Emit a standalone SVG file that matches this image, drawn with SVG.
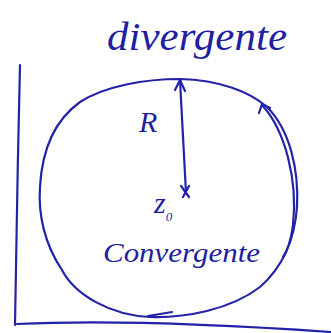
<svg xmlns="http://www.w3.org/2000/svg" width="331" height="333" viewBox="0 0 331 333">
  <style>
    .ink { fill: none; stroke: #2323a8; stroke-width: 2.2; stroke-linecap: round; stroke-linejoin: round; }
    .txt { fill: #1f1fa0; font-family: "Liberation Serif", "DejaVu Serif", serif; font-style: italic; }
  </style>
  <rect width="331" height="333" fill="#ffffff"/>
  <g id="axes">
    <path class="ink" d="M20,65 C18,150 16,250 15,325"/>
    <path class="ink" d="M17,324 C100,320 200,323 331,332"/>
  </g>
  <g id="circle">
    <path class="ink" d="M180,79 C220,80 250,92 267,107 C290,130 299,170 297,207 C295,235 285,265 260,287 C230,310 185,318 150,317 C110,315 75,295 62,270 C45,245 38,215 40,187 C42,150 55,120 80,102 C105,86 145,79 180,79 Z"/>
    <path class="ink" d="M148,316 L172,312" stroke-width="4"/>
  </g>
  <g id="direction-arrow">
    <path class="ink" d="M262,105 C285,130 298,180 293,225 C291,240 288,250 283,257"/>
    <path class="ink" d="M259,113 L262,104 L270,108"/>
  </g>
  <g id="radius">
    <path class="ink" d="M186,193 L180,80"/>
    <path class="ink" d="M175,90 L180,80 L185,91"/>
    <path class="ink" d="M181,186 L189,197 M189,186 L183,197" stroke-width="1.6"/>
  </g>
  <g id="labels">
    <text class="txt" x="107" y="50" font-size="40" textLength="180" lengthAdjust="spacingAndGlyphs">divergente</text>
    <text class="txt" x="139" y="132" font-size="30">R</text>
    <text class="txt" x="154" y="213" font-size="30">z<tspan font-size="13" dy="8">0</tspan></text>
    <text class="txt" x="103" y="262" font-size="28" textLength="157" lengthAdjust="spacingAndGlyphs">Convergente</text>
  </g>
</svg>
